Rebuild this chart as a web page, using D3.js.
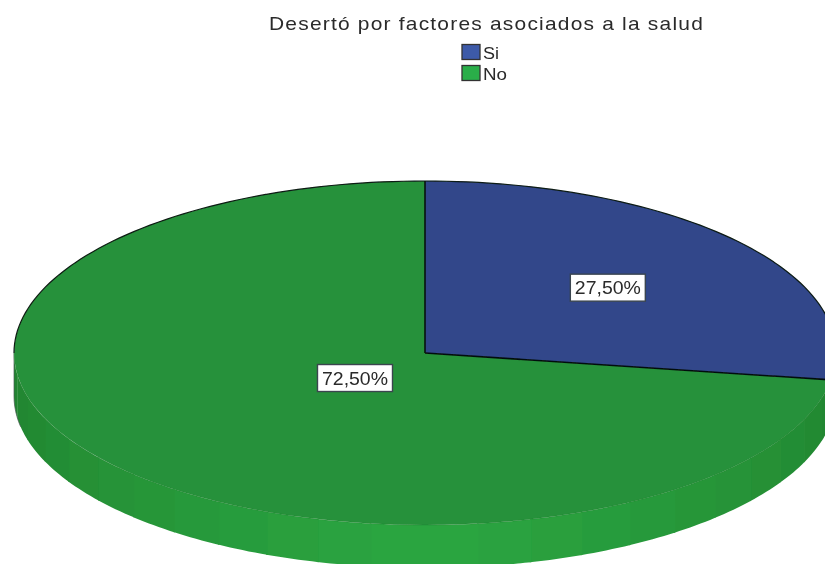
<!DOCTYPE html>
<html>
  <head>
    <meta charset="utf-8">
    <title>Desertó por factores asociados a la salud</title>
    <style>
      html, body { margin: 0; padding: 0; background: #fff; overflow: hidden; }
      svg { display: block; font-family: "Liberation Sans", Arial, sans-serif; }
    </style>
  </head>
  <body>
    <svg width="825" height="564"></svg>

    <script src="https://d3js.org/d3.v7.min.js"></script>
    <script>
      // Data
      const title = 'Desertó por factores asociados a la salud';
      const categories = ['Si', 'No'];
      const values = [27.5, 72.5];

      // Colours
      const topColors = ['#30468a', '#26913a'];
      const legendColors = ['#3c5aa8', '#2bae4a'];
      const wallLight = '#2ba641';
      const wallDark = '#21822f';

      // Layout of the tilted pie
      const cx = 425, cy = 353, rx = 411, ry = 172, depth = 43;
      const labelRadius = [0.585, 0.224];

      const svg = d3.select('svg');

      // Slight softening, the original is a scaled-up screenshot
      svg.append('defs').append('filter')
        .attr('id', 'soft')
        .append('feGaussianBlur')
        .attr('stdDeviation', 0.6);

      const root = svg.append('g').attr('filter', 'url(#soft)');

      const arcs = d3.pie().sort(null)(values);

      // Point on the ellipse, angle clockwise from the top
      const onRim = (a, dy = 0) => [cx + rx * Math.sin(a), cy - ry * Math.cos(a) + dy];

      // Side wall, cut in flat facets like the original
      const step = Math.PI / 24;
      const shade = d3.scaleLinear()
        .domain([0, Math.PI / 2])
        .range([wallLight, wallDark]);
      const line = d3.line();
      const wallAngles = d3.range(-12, 12).map(i => Math.PI + i * step);

      root.append('g').selectAll('path')
        .data(wallAngles)
        .join('path')
        .attr('d', a => {
          // a little overlap so no seam shows between facets
          const arcPts = d3.range(0, 9).map(i => a + i * (step + 0.004) / 8);
          const upper = arcPts.map(t => onRim(t));
          const lower = arcPts.map(t => onRim(t, depth)).reverse();
          return line(upper.concat(lower)) + 'Z';
        })
        .attr('fill', a => shade(Math.abs(a + step / 2 - Math.PI)));

      // Thin grey edge at the left end of the wall
      root.append('path')
        .attr('d', line(d3.range(0, 7).map(i => onRim(1.5 * Math.PI - i * 0.03, depth))
          .reverse().concat([onRim(1.5 * Math.PI)])))
        .attr('fill', 'none')
        .attr('stroke', '#4a5a54')
        .attr('stroke-width', 0.7);

      // Top face
      const arc = d3.arc().innerRadius(0).outerRadius(1);
      root.append('g')
        .attr('transform', `translate(${cx},${cy}) scale(${rx},${ry})`)
        .selectAll('path')
        .data(arcs)
        .join('path')
        .attr('d', arc)
        .attr('fill', (d, i) => topColors[i]);

      // Faint darker line along the front rim
      root.append('path')
        .attr('d', line(d3.range(0, 121).map(i => onRim(Math.PI / 2 + i * Math.PI / 120))))
        .attr('fill', 'none')
        .attr('stroke', '#1d7a2c')
        .attr('stroke-opacity', 0.5)
        .attr('stroke-width', 0.7);

      // Dark outline on the back half only
      root.append('path')
        .attr('d', line(d3.range(0, 121).map(i => onRim(-Math.PI / 2 + i * Math.PI / 120))))
        .attr('fill', 'none')
        .attr('stroke', '#0b1a12')
        .attr('stroke-width', 1.2);

      // The two slice edges
      const spokes = [arcs[0].startAngle, arcs[0].endAngle];
      root.append('g').selectAll('path')
        .data(spokes)
        .join('path')
        .attr('d', a => line([[cx, cy], onRim(a)]))
        .attr('stroke', '#06100c')
        .attr('stroke-width', 1.6);

      // Title, the original is stretched and spaced out so the length is forced
      root.append('text')
        .attr('x', 486.5)
        .attr('y', 30)
        .attr('text-anchor', 'middle')
        .attr('font-size', 19)
        .attr('letter-spacing', 1.1)
        .attr('textLength', 435)
        .attr('lengthAdjust', 'spacingAndGlyphs')
        .attr('fill', '#2a2a2a')
        .text(title);

      // Legend
      const legendY = d3.scalePoint().domain(categories).range([44.5, 65.5]);
      const legendWidths = [16, 24];
      const legend = root.append('g').selectAll('g')
        .data(categories)
        .join('g')
        .attr('transform', d => `translate(462,${legendY(d)})`);
      legend.append('rect')
        .attr('width', 18)
        .attr('height', 15)
        .attr('fill', (d, i) => legendColors[i])
        .attr('stroke', '#333')
        .attr('stroke-width', 1.3);
      legend.append('text')
        .attr('x', 21)
        .attr('y', 14.5)
        .attr('font-size', 16)
        .attr('textLength', (d, i) => legendWidths[i])
        .attr('lengthAdjust', 'spacingAndGlyphs')
        .attr('fill', '#2a2a2a')
        .text(d => d);

      // Value labels, comma decimals
      const fmt = d3.formatLocale({ decimal: ',', thousands: '.', grouping: [3], currency: ['', ''] }).format('.2f');
      const labels = root.append('g').selectAll('g')
        .data(arcs)
        .join('g')
        .attr('transform', (d, i) => {
          const mid = (d.startAngle + d.endAngle) / 2;
          const k = labelRadius[i];
          return `translate(${cx + k * rx * Math.sin(mid)},${cy - k * ry * Math.cos(mid)})`;
        });
      labels.append('rect')
        .attr('x', -37.5)
        .attr('y', -13.5)
        .attr('width', 75)
        .attr('height', 27)
        .attr('fill', '#fff')
        .attr('stroke', '#3a4450')
        .attr('stroke-width', 1.4);
      labels.append('text')
        .attr('text-anchor', 'middle')
        .attr('y', 6.5)
        .attr('font-size', 17.5)
        .attr('textLength', 66)
        .attr('lengthAdjust', 'spacingAndGlyphs')
        .attr('fill', '#2a2a2a')
        .text(d => fmt(d.value) + '%');
    </script>
  </body>
</html>
